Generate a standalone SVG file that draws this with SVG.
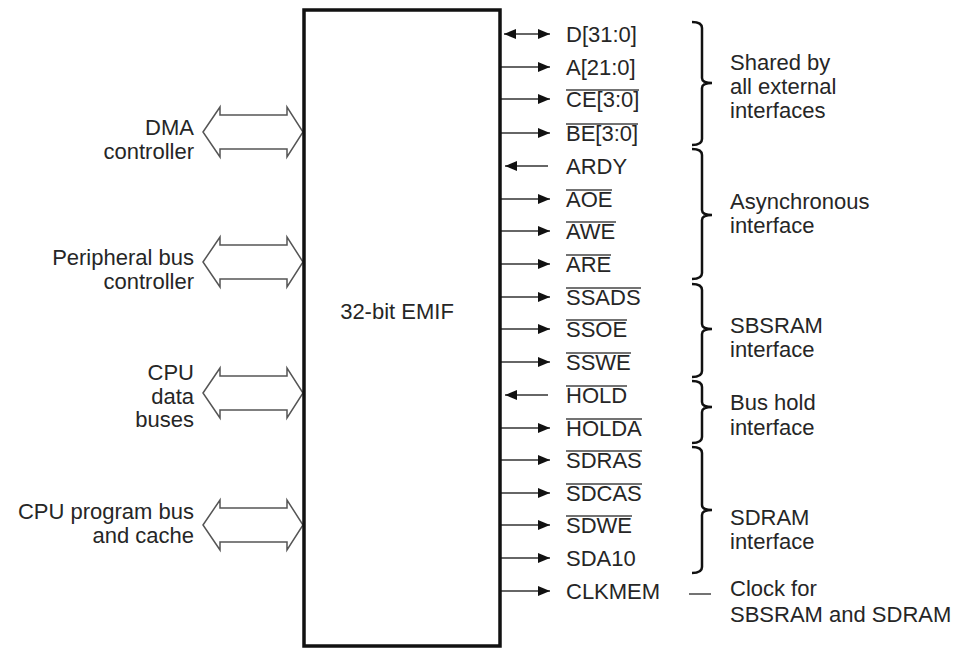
<svg xmlns="http://www.w3.org/2000/svg" width="961" height="648" viewBox="0 0 961 648">
<defs>
<marker id="ah" viewBox="0 0 12 10" refX="12" refY="5" markerWidth="12" markerHeight="10" markerUnits="userSpaceOnUse" orient="auto-start-reverse">
<path d="M0,0 L12,5 L0,10 z" fill="#111"/>
</marker>
<style>
text{font-family:"Liberation Sans",Arial,sans-serif;font-size:22px;fill:#262626}
.end{text-anchor:end}
.sig{stroke:#333;stroke-width:1.6;fill:none;marker-end:url(#ah)}
.bi{marker-start:url(#ah)}
.ov{stroke:#444;stroke-width:1.5}
.bus{fill:#fff;stroke:#555;stroke-width:1.5;stroke-linejoin:miter}
.brace{fill:none;stroke:#111;stroke-width:2.5}
.box{fill:none;stroke:#111;stroke-width:3.5}
</style>
</defs>
<rect width="961" height="648" fill="#fff"/>

<g id="connectors">
<polygon class="bus" points="203,132 220,107 220,115 287,115 287,107 303,132 287,157 287,149 220,149 220,157"/>
<polygon class="bus" points="203,262 220,237 220,245 287,245 287,237 303,262 287,287 287,279 220,279 220,287"/>
<polygon class="bus" points="203,393 220,368 220,376 287,376 287,368 303,393 287,418 287,410 220,410 220,418"/>
<polygon class="bus" points="203,525 220,500 220,508 287,508 287,500 303,525 287,550 287,542 220,542 220,550"/>
<line class="sig bi" x1="504" y1="34" x2="550" y2="34"/>
<line class="sig" x1="500" y1="67" x2="550" y2="67"/>
<line class="sig" x1="500" y1="99" x2="550" y2="99"/>
<line class="sig" x1="500" y1="133" x2="550" y2="133"/>
<line class="sig" x1="548" y1="166" x2="505" y2="166"/>
<line class="sig" x1="500" y1="199" x2="550" y2="199"/>
<line class="sig" x1="500" y1="231" x2="550" y2="231"/>
<line class="sig" x1="500" y1="264" x2="550" y2="264"/>
<line class="sig" x1="500" y1="297" x2="550" y2="297"/>
<line class="sig" x1="500" y1="329" x2="550" y2="329"/>
<line class="sig" x1="500" y1="362" x2="550" y2="362"/>
<line class="sig" x1="548" y1="395" x2="505" y2="395"/>
<line class="sig" x1="500" y1="428" x2="550" y2="428"/>
<line class="sig" x1="500" y1="460" x2="550" y2="460"/>
<line class="sig" x1="500" y1="493" x2="550" y2="493"/>
<line class="sig" x1="500" y1="525" x2="550" y2="525"/>
<line class="sig" x1="500" y1="558" x2="550" y2="558"/>
<line class="sig" x1="500" y1="591" x2="550" y2="591"/>
<line x1="689" y1="594" x2="711" y2="594" stroke="#444" stroke-width="1.5"/>
</g>

<g id="emif">
<rect class="box" x="304" y="10" width="196" height="636"/>
<text x="397" y="319" text-anchor="middle">32-bit EMIF</text>
</g>

<g id="dma">
<text class="end" x="194" y="135">DMA</text>
<text class="end" x="194" y="159">controller</text>
</g>
<g id="peripheral">
<text class="end" x="194" y="265">Peripheral bus</text>
<text class="end" x="194" y="289">controller</text>
</g>
<g id="cpudata">
<text class="end" x="194" y="380">CPU</text>
<text class="end" x="194" y="404">data</text>
<text class="end" x="194" y="427">buses</text>
</g>
<g id="cpuprog">
<text class="end" x="194" y="519">CPU program bus</text>
<text class="end" x="194" y="543">and cache</text>
</g>

<g id="signals">
<text x="566" y="42">D[31:0]</text>
<text x="566" y="75">A[21:0]</text>
<text x="566" y="107">CE[3:0]</text><line class="ov" x1="566" y1="90" x2="639" y2="90"/>
<text x="566" y="141">BE[3:0]</text><line class="ov" x1="566" y1="124" x2="638" y2="124"/>
<text x="566" y="174">ARDY</text>
<text x="566" y="207">AOE</text><line class="ov" x1="566" y1="190" x2="612" y2="190"/>
<text x="566" y="239">AWE</text><line class="ov" x1="566" y1="222" x2="616" y2="222"/>
<text x="566" y="272">ARE</text><line class="ov" x1="566" y1="255" x2="611" y2="255"/>
<text x="566" y="305">SSADS</text><line class="ov" x1="566" y1="288" x2="641" y2="288"/>
<text x="566" y="337">SSOE</text><line class="ov" x1="566" y1="320" x2="627" y2="320"/>
<text x="566" y="370">SSWE</text><line class="ov" x1="566" y1="353" x2="631" y2="353"/>
<text x="566" y="403">HOLD</text><line class="ov" x1="566" y1="386" x2="627" y2="386"/>
<text x="566" y="436">HOLDA</text><line class="ov" x1="566" y1="419" x2="642" y2="419"/>
<text x="566" y="468">SDRAS</text><line class="ov" x1="566" y1="451" x2="642" y2="451"/>
<text x="566" y="501">SDCAS</text><line class="ov" x1="566" y1="484" x2="642" y2="484"/>
<text x="566" y="533">SDWE</text><line class="ov" x1="566" y1="516" x2="632" y2="516"/>
<text x="566" y="566">SDA10</text>
<text x="566" y="599">CLKMEM</text>
</g>

<g id="shared">
<path class="brace" d="M692,22 Q702,22 702,28 L702,78 Q702,83 712,83 Q702,83 702,88 L702,139 Q702,145 692,145"/>
<text x="730" y="70">Shared by</text>
<text x="730" y="94">all external</text>
<text x="730" y="118">interfaces</text>
</g>
<g id="async">
<path class="brace" d="M692,149 Q702,149 702,155 L702,210 Q702,215 712,215 Q702,215 702,220 L702,273 Q702,279 692,279"/>
<text x="730" y="209">Asynchronous</text>
<text x="730" y="233">interface</text>
</g>
<g id="sbsram">
<path class="brace" d="M692,284 Q702,284 702,290 L702,324 Q702,329 712,329 Q702,329 702,334 L702,371 Q702,377 692,377"/>
<text x="730" y="333">SBSRAM</text>
<text x="730" y="357">interface</text>
</g>
<g id="bushold">
<path class="brace" d="M692,381 Q702,381 702,387 L702,402 Q702,407 712,407 Q702,407 702,412 L702,437 Q702,443 692,443"/>
<text x="730" y="410">Bus hold</text>
<text x="730" y="435">interface</text>
</g>
<g id="sdram">
<path class="brace" d="M692,447 Q702,447 702,453 L702,505 Q702,510 712,510 Q702,510 702,515 L702,567 Q702,573 692,573"/>
<text x="730" y="525">SDRAM</text>
<text x="730" y="549">interface</text>
</g>
<g id="clock">
<text x="730" y="596">Clock for</text>
<text x="730" y="622">SBSRAM and SDRAM</text>
</g>
</svg>
